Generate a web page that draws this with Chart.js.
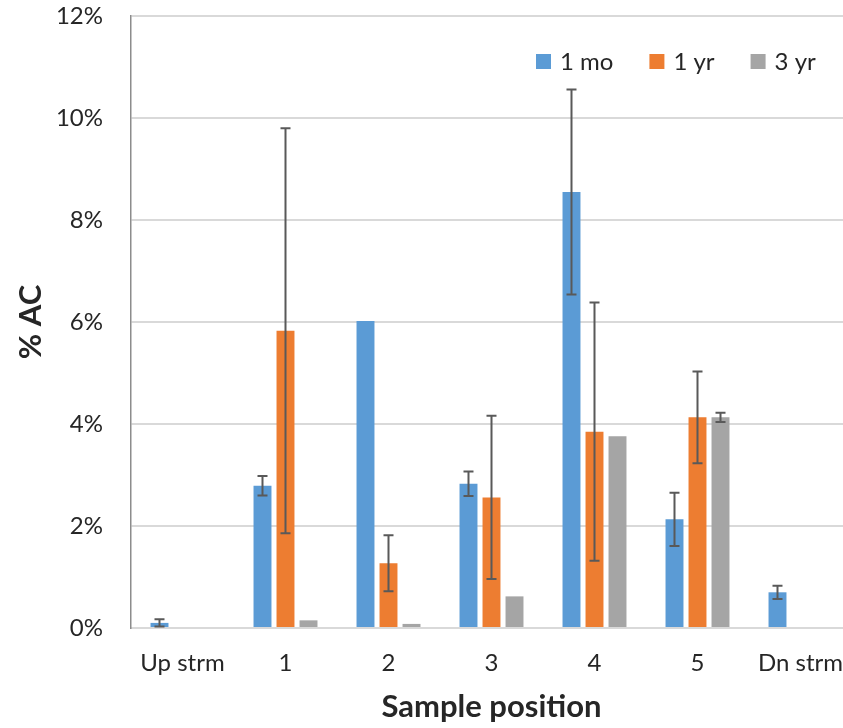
<!DOCTYPE html>
<html>
<head>
<meta charset="utf-8">
<script src="https://cdn.jsdelivr.net/npm/chart.js@4"></script>
<style>
  html, body { margin: 0; padding: 0; background: #fff; overflow: hidden; }
  #wrap { width: 860px; height: 728px; }
</style>
</head>
<body>
<div id="wrap"><canvas id="acChart" width="860" height="728"></canvas></div>
<script>
// Chart data (percent AC)
const positions = ["Up strm", "1", "2", "3", "4", "5", "Dn strm"];
const oneMonth = [0.10, 2.79, 6.02, 2.83, 8.55, 2.13, 0.70];
const oneYear = [null, 5.83, 1.27, 2.56, 3.85, 4.13, null];
const threeYear = [null, 0.15, 0.08, 0.62, 3.76, 4.13, null];

// Error bar half-lengths (0 = none)
const oneMonthErr = [0.07, 0.19, 0, 0.24, 2.01, 0.52, 0.13];
const oneYearErr = [0, 3.97, 0.55, 1.60, 2.53, 0.90, 0];
const threeYearErr = [0, 0, 0, 0, 0, 0.09, 0];

const yTicks = [0, 2, 4, 6, 8, 10, 12];

const FONT = "Lato, 'Open Sans', sans-serif";
const errors = [oneMonthErr, oneYearErr, threeYearErr];

// Draw error bars on top of the bars
const errorBarPlugin = {
  id: "errorBars",
  afterDatasetsDraw(chart) {
    const ctx = chart.ctx;
    const yScale = chart.scales.y;
    ctx.save();
    ctx.strokeStyle = "#595959";
    ctx.lineWidth = 2;
    chart.data.datasets.forEach((ds, i) => {
      const meta = chart.getDatasetMeta(i);
      meta.data.forEach((bar, j) => {
        const err = errors[i][j];
        const val = ds.data[j];
        if (!err || val == null) return;
        const top = yScale.getPixelForValue(val + err);
        const bottom = yScale.getPixelForValue(Math.max(val - err, 0));
        ctx.beginPath();
        ctx.moveTo(bar.x, top);
        ctx.lineTo(bar.x, bottom);
        ctx.moveTo(bar.x - 5, top);
        ctx.lineTo(bar.x + 5, top);
        ctx.moveTo(bar.x - 5, bottom);
        ctx.lineTo(bar.x + 5, bottom);
        ctx.stroke();
      });
    });
    ctx.restore();
  },
};

// Legend inside the plot, top right
const legendPlugin = {
  id: "innerLegend",
  afterDraw(chart) {
    const ctx = chart.ctx;
    ctx.save();
    ctx.font = "24px " + FONT;
    ctx.textBaseline = "middle";
    let x = 536;
    const y = 62;
    chart.data.datasets.forEach((ds) => {
      ctx.fillStyle = ds.backgroundColor;
      ctx.fillRect(x, y - 8, 15, 15);
      x += 24;
      ctx.fillStyle = "#262626";
      ctx.fillText(ds.label, x, y);
      x += ctx.measureText(ds.label).width + 36;
    });
    ctx.restore();
  },
};

function drawChart() {
  const ctx = document.getElementById("acChart").getContext("2d");
  new Chart(ctx, {
    type: "bar",
    data: {
      labels: positions,
      datasets: [
        { label: "1 mo", data: oneMonth, backgroundColor: "#5B9BD5" },
        { label: "1 yr", data: oneYear, backgroundColor: "#ED7D31" },
        { label: "3 yr", data: threeYear, backgroundColor: "#A5A5A5" },
      ],
    },
    options: {
      responsive: false,
      animation: false,
      devicePixelRatio: 1,
      layout: { padding: { left: 0, top: 16, right: 8, bottom: 0 } },
      datasets: {
        bar: { categoryPercentage: 0.67, barPercentage: 0.78 },
      },
      plugins: {
        legend: { display: false },
        tooltip: { enabled: false },
      },
      scales: {
        x: {
          grid: {
            drawOnChartArea: false,
            tickLength: 21,
            tickColor: "rgba(0,0,0,0)",
          },
          border: { color: "#d9d9d9", width: 2 },
          ticks: {
            color: "#262626",
            font: { family: FONT, size: 24 },
            padding: 0,
            maxRotation: 0,
          },
          title: {
            display: true,
            text: "Sample position",
            color: "#262626",
            font: { family: FONT, size: 31, weight: "bold" },
            padding: { top: 0, bottom: 2 },
          },
          afterFit(scale) {
            scale.height = 100;
          },
        },
        y: {
          min: 0,
          max: 12,
          afterBuildTicks(scale) {
            scale.ticks = yTicks.map((v) => ({ value: v }));
          },
          grid: {
            color: "#d9d9d9",
            lineWidth: 2,
            tickLength: 28,
            tickColor: "rgba(0,0,0,0)",
          },
          border: { color: "#8c8c8c", width: 1.5 },
          ticks: {
            color: "#262626",
            font: { family: FONT, size: 24 },
            padding: 0,
            callback: (v) => v + "%",
          },
          title: {
            display: true,
            text: "% AC",
            color: "#262626",
            font: { family: FONT, size: 31, weight: "bold" },
            padding: { top: 12, bottom: 0 },
          },
          afterFit(scale) {
            scale.width = 131;
          },
        },
      },
    },
    plugins: [errorBarPlugin, legendPlugin],
  });
}

window.onload = function () {
  drawChart();
};
</script>
</body>
</html>
